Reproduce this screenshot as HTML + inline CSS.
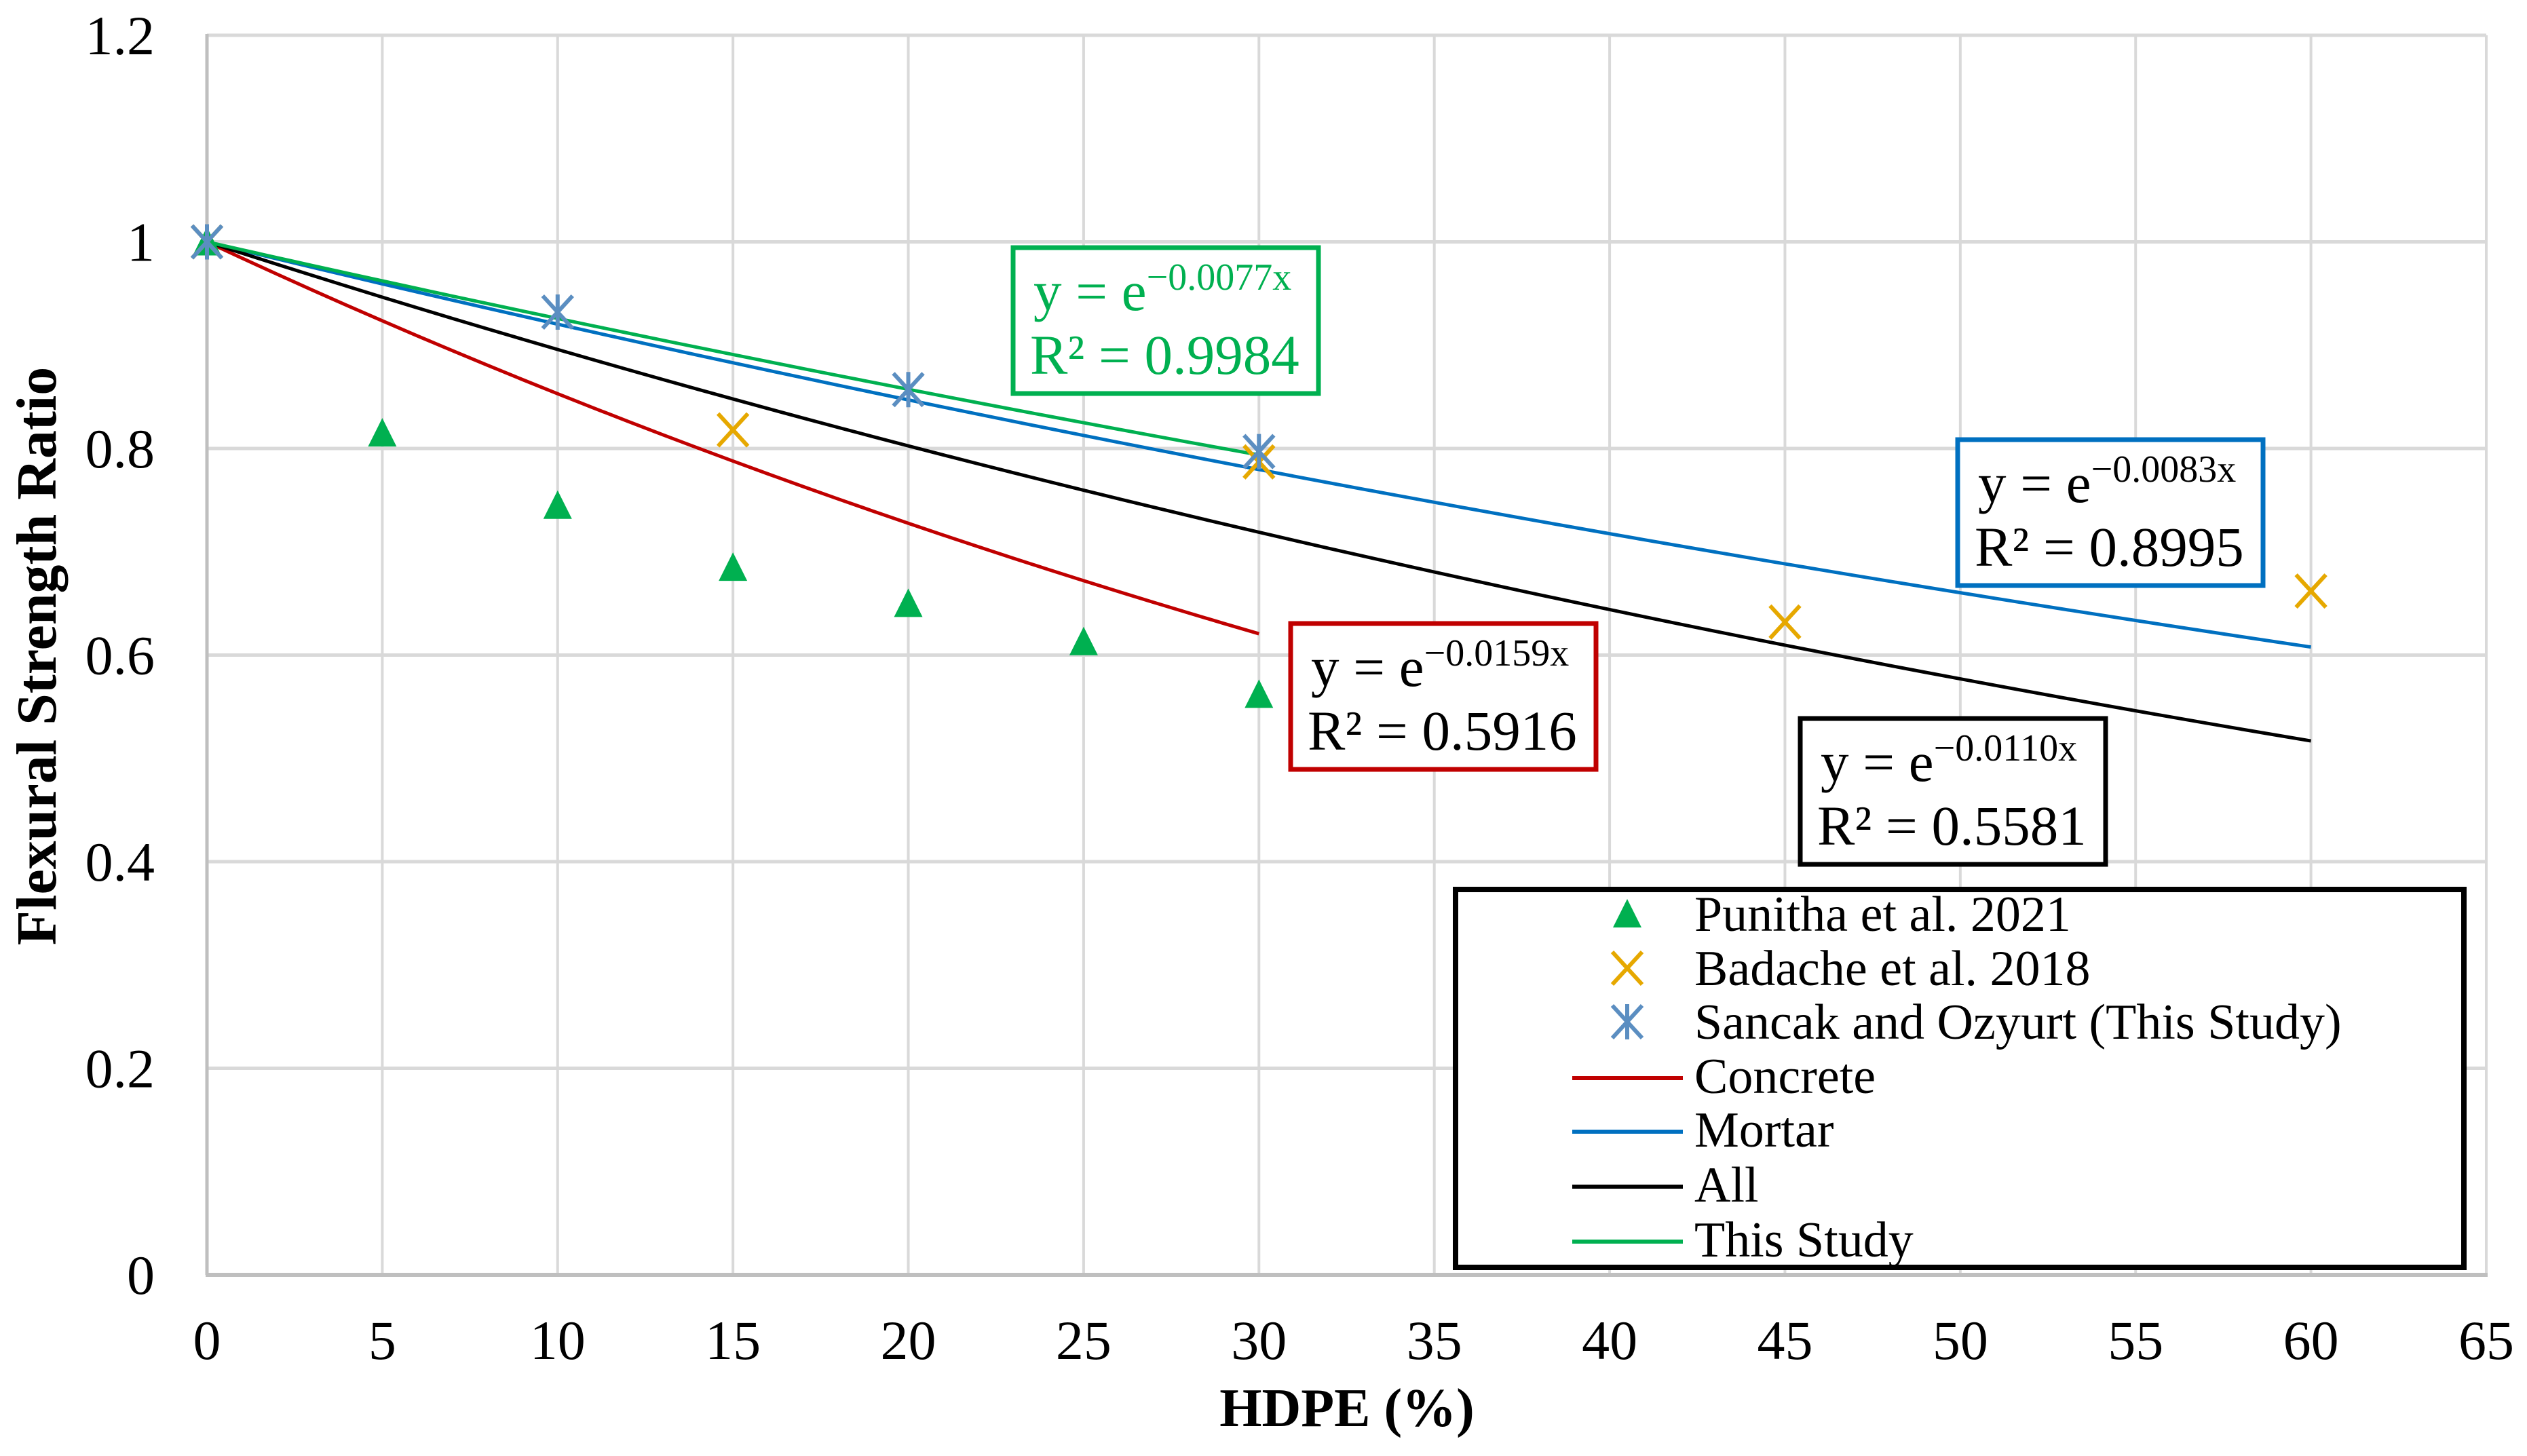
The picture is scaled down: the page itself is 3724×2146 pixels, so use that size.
<!DOCTYPE html>
<html><head><meta charset="utf-8"><style>
html,body{margin:0;padding:0;background:#fff;}
svg{display:block;font-family:"Liberation Serif","Times New Roman",serif;}
</style></head><body>
<svg id="chart" width="3724" height="2146" viewBox="0 0 3724 2146" xmlns="http://www.w3.org/2000/svg">
<g id="grid"></g>
<g id="axes"></g>
<g id="trend"></g>
<g id="marks"></g>
<g id="boxes"></g>
<g id="legend"></g>
<text transform="translate(82,967) rotate(-90)" text-anchor="middle" font-size="84" font-weight="bold">Flexural Strength Ratio</text>
<text x="1985" y="2102" text-anchor="middle" font-size="80" font-weight="bold">HDPE (%)</text>
</svg>
<script>
const xTicks=[0,5,10,15,20,25,30,35,40,45,50,55,60,65];
const yTicks=[0,0.2,0.4,0.6,0.8,1,1.2];
const yTickLabels=["0","0.2","0.4","0.6","0.8","1","1.2"];
const punithaX=[0,5,10,15,20,25,30];
const punithaY=[1,0.815,0.745,0.685,0.65,0.613,0.562];
const badacheX=[0,15,30,45,60];
const badacheY=[1,0.818,0.787,0.632,0.662];
const sancakX=[0,10,20,30];
const sancakY=[1,0.932,0.857,0.797];
const trendNames=["Concrete","Mortar","All","This Study"];
const trendK=[0.0159,0.0083,0.0110,0.0077];
const trendMax=[30,60,60,30];
const trendR2=["0.5916","0.8995","0.5581","0.9984"];
const trendColors=["#C00000","#0070C0","#000000","#00B050"];

const NS="http://www.w3.org/2000/svg";
const X0=305,X1=3664,Y0=1879,Y1=52;
const sx=v=>X0+(v-0)/(65-0)*(X1-X0);
const sy=v=>Y0-(v-0)/(1.2-0)*(Y0-Y1);
function mk(tag,attrs,parent){const e=document.createElementNS(NS,tag);for(const k in attrs)e.setAttribute(k,attrs[k]);parent.appendChild(e);return e;}
const grid=document.getElementById('grid'),axes=document.getElementById('axes'),trend=document.getElementById('trend'),marks=document.getElementById('marks'),boxes=document.getElementById('boxes'),legend=document.getElementById('legend');

xTicks.forEach((t,i)=>{
  if(t>0){const l=mk('line',{x1:sx(t),x2:sx(t),y1:Y1,y2:Y0,stroke:'#d9d9d9','stroke-width':4},grid);
  
  }
  const tx=mk('text',{x:sx(t),y:2003,'text-anchor':'middle','font-size':82},axes);tx.textContent=t;
  
  
});
yTicks.forEach((t,i)=>{
  if(t>0){const l=mk('line',{x1:X0,x2:X1,y1:sy(t),y2:sy(t),stroke:'#d9d9d9','stroke-width':5},grid);
  
  }
  const tx=mk('text',{x:228,y:sy(t)+28,'text-anchor':'end','font-size':82},axes);tx.textContent=yTickLabels[i];
  
  
});
const xa=mk('line',{x1:X0-2,x2:X1+2,y1:Y0,y2:Y0,stroke:'#bfbfbf','stroke-width':6},axes);


const ya=mk('line',{x1:X0,x2:X0,y1:Y1-2,y2:Y0,stroke:'#bfbfbf','stroke-width':5},axes);



trendK.forEach((k,i)=>{
  let pts=[];for(let x=0;x<=trendMax[i];x+=1)pts.push(sx(x)+','+sy(Math.exp(-k*x)));
  const p=mk('polyline',{points:pts.join(' '),fill:'none',stroke:trendColors[i],'stroke-width':5},trend);
  
  
});

function tri(cx,cy,parent){return mk('polygon',{points:`${cx},${cy-22} ${cx-21},${cy+20} ${cx+21},${cy+20}`,fill:'#00B050'},parent);}
function xm(cx,cy,parent){const g=mk('g',{stroke:'#E6A800','stroke-width':6},parent);mk('line',{x1:cx-22,y1:cy-24,x2:cx+22,y2:cy+24},g);mk('line',{x1:cx-22,y1:cy+24,x2:cx+22,y2:cy-24},g);return g;}
function star(cx,cy,parent){const g=mk('g',{stroke:'#5B8EC1','stroke-width':6},parent);mk('line',{x1:cx-22,y1:cy-24,x2:cx+22,y2:cy+24},g);mk('line',{x1:cx-22,y1:cy+24,x2:cx+22,y2:cy-24},g);mk('line',{x1:cx,y1:cy-26,x2:cx,y2:cy+26},g);return g;}
punithaX.forEach((x,i)=>{const e=tri(sx(x),sy(punithaY[i]),marks);
  
  });
badacheX.forEach((x,i)=>{const e=xm(sx(x),sy(badacheY[i]),marks);
  
  });
sancakX.forEach((x,i)=>{const e=star(sx(x),sy(sancakY[i]),marks);
  
  });

const boxPos=[[1902,919],[2885,648],[2653,1059],[1493,365]];
trendK.forEach((k,i)=>{
  const [bx,by]=boxPos[i];
  const g=mk('g',{},boxes);
  
  
  mk('rect',{x:bx,y:by,width:450,height:215,fill:'#fff',stroke:trendColors[i],'stroke-width':7},g);
  const col=i===3?'#00B050':'#000';
  const t1=mk('text',{x:bx+30,y:by+92,'font-size':83,fill:col},g);
  t1.innerHTML='y = e<tspan dy="-30" font-size="56">\u2212'+k.toFixed(4)+'x</tspan>';
  const t2=mk('text',{x:bx+25,y:by+186,'font-size':83,fill:col},g);
  t2.textContent='R\u00b2 = '+trendR2[i];
});

const lg=mk('rect',{x:2145,y:1311,width:1486,height:557,fill:'#fff',stroke:'#000','stroke-width':8},legend);


const legNames=["Punitha et al. 2021","Badache et al. 2018","Sancak and Ozyurt (This Study)"];
const legBase=[1372,1452,1531,1611,1690,1771,1852];
legNames.forEach((n,i)=>{
  const g=mk('g',{},legend);
  
  
  const cy=legBase[i]-25;
  if(i===0)tri(2398,cy,g);else if(i===1)xm(2398,cy,g);else star(2398,cy,g);
  const t=mk('text',{x:2497,y:legBase[i],'font-size':74},g);t.textContent=n;
});
trendNames.forEach((n,i)=>{
  const g=mk('g',{},legend);
  
  
  const cy=legBase[i+3]-22;
  mk('line',{x1:2317,x2:2480,y1:cy,y2:cy,stroke:trendColors[i],'stroke-width':6},g);
  const t=mk('text',{x:2497,y:legBase[i+3],'font-size':74},g);t.textContent=n;
});
</script>
</body></html>
